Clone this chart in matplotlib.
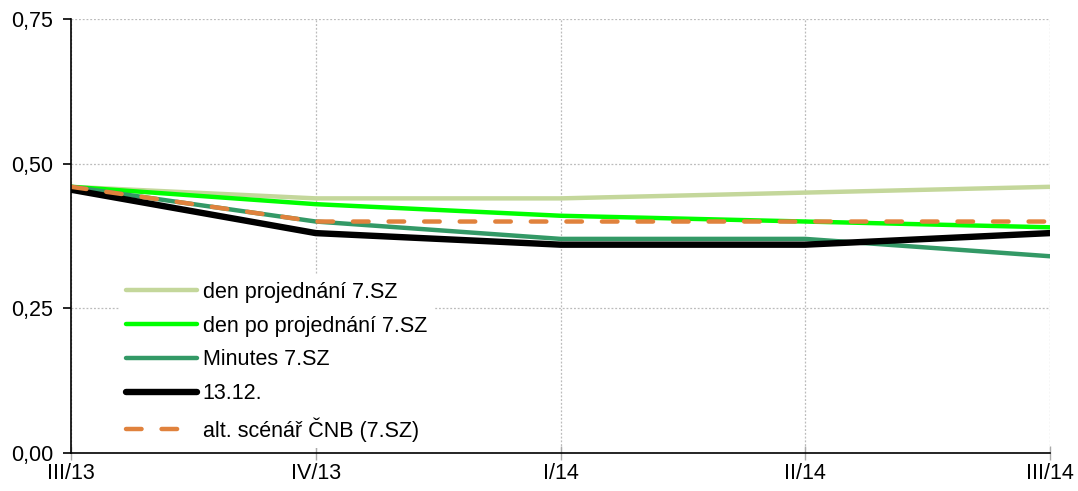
import matplotlib
matplotlib.use("Agg")
import matplotlib.pyplot as plt
from matplotlib.ticker import FuncFormatter

plt.rcParams['font.family'] = ['Liberation Sans', 'DejaVu Sans']

categories = ["III/13", "IV/13", "I/14", "II/14", "III/14"]

den_projednani = [0.46, 0.44, 0.44, 0.45, 0.46]
den_po_projednani = [0.46, 0.43, 0.41, 0.40, 0.39]
minutes = [0.46, 0.40, 0.37, 0.37, 0.34]
d13_12 = [0.455, 0.38, 0.36, 0.36, 0.38]
alt_scenar = [0.46, 0.40, 0.40, 0.40, 0.40]

series = [
    ("den projednání 7.SZ", den_projednani, dict(color="#c4d79b", lw=3.2)),
    ("den po projednání 7.SZ", den_po_projednani, dict(color="#00ff00", lw=3.2)),
    ("Minutes 7.SZ", minutes, dict(color="#339966", lw=3.2)),
    ("13.12.", d13_12, dict(color="#000000", lw=4.6)),
    ("alt. scénář ČNB (7.SZ)", alt_scenar,
     dict(color="#e0823d", lw=3.2, dashes=(3.5, 4.5), dash_capstyle="round")),
]

fig = plt.figure(figsize=(10.78, 4.91), dpi=100)
ax = fig.add_axes([0.0659, 0.0774, 0.9081, 0.8839])

x = list(range(len(categories)))
for label, vals, style in series:
    ax.plot(x, vals, label=label, solid_capstyle="round", **style)

ax.set_xlim(0, len(categories) - 1)
ax.set_ylim(0, 0.75)
ax.set_yticks([0, 0.25, 0.5, 0.75])
ax.yaxis.set_major_formatter(FuncFormatter(lambda v, p: f"{v:.2f}".replace(".", ",")))
ax.set_xticks(x)
ax.set_xticklabels(categories)

ax.grid(True, color="#bbbbbb", linestyle=(0, (1.5, 1.5)), linewidth=0.9)
ax.set_axisbelow(True)

for s in ("top", "right"):
    ax.spines[s].set_visible(False)
ax.spines["left"].set_linewidth(1.2)
ax.spines["bottom"].set_linewidth(1.2)

ax.tick_params(axis="y", direction="out", length=6, width=1.2, labelsize=15.5, pad=7)
ax.tick_params(axis="x", direction="inout", length=10, width=1.0, color="#aaaaaa",
               labelsize=15.5, pad=2, labelcolor="black")

leg = ax.legend(loc="lower left", bbox_to_anchor=(0.05, 0.011), frameon=True,
                fontsize=15.5, handlelength=3.3, handletextpad=0.25,
                labelspacing=0.6, borderpad=0.3, borderaxespad=0.0)
leg.get_frame().set_edgecolor("none")
leg.get_frame().set_facecolor("white")
leg.get_frame().set_alpha(1.0)
leg.get_frame().set_boxstyle("square", pad=0)

fig.savefig("out.png", dpi=100)
